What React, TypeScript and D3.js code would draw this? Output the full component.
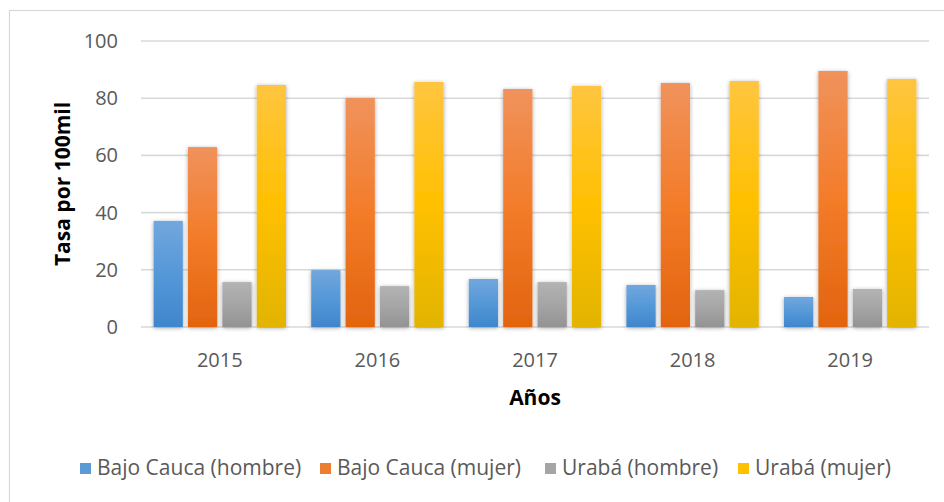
import React from 'react'
import * as d3 from 'd3'

const years = ['2015', '2016', '2017', '2018', '2019']
const seriesNames = ['Bajo Cauca (hombre)', 'Bajo Cauca (mujer)', 'Urabá (hombre)', 'Urabá (mujer)']
const bajoCaucaHombre = [37.1, 19.9, 16.8, 14.7, 10.5]
const bajoCaucaMujer = [62.9, 80.1, 83.2, 85.3, 89.5]
const urabaHombre = [15.7, 14.3, 15.7, 12.9, 13.3]
const urabaMujer = [84.6, 85.7, 84.3, 86.0, 86.7]
const yTicks = [0, 20, 40, 60, 80, 100]

const seriesValues = [bajoCaucaHombre, bajoCaucaMujer, urabaHombre, urabaMujer]
// top, middle, bottom of each bar's gradient + flat legend colour
const grads = [
  ['#72a7dd', '#5598d8', '#3f86cc', '#5b9bd5'],
  ['#f0925c', '#f37c29', '#e2640f', '#ed7d31'],
  ['#b3b3b3', '#a5a5a5', '#939393', '#a5a5a5'],
  ['#ffc540', '#ffc000', '#e2b400', '#ffc000'],
]

const W = 944
const H = 502
const left = 141
const right = 929
const top = 41
const bottom = 327

export default function App() {
  const x0 = d3.scaleBand().domain(years).range([left, right]).paddingInner(0.16).paddingOuter(0.08)
  const x1 = d3.scaleBand().domain(seriesNames).range([0, x0.bandwidth()]).paddingInner(0.15)
  const y = d3.scaleLinear().domain([0, 100]).range([bottom, top])

  // legend square x positions
  const legendX = [80, 320, 545, 738]

  return (
    <div style={{ position: 'absolute', left: 0, top: 0 }}>
      <svg width={W} height={H} style={{ display: 'block', background: '#fff' }}>
        <defs>
          {grads.map((g, i) => (
            <linearGradient key={i} id={'g' + i} x1="0" y1="0" x2="0" y2="1">
              <stop offset="0" stopColor={g[0]} />
              <stop offset="0.5" stopColor={g[1]} />
              <stop offset="1" stopColor={g[2]} />
            </linearGradient>
          ))}
          <filter id="sh" x="-30%" y="-10%" width="160%" height="125%">
            <feDropShadow dx="0" dy="1" stdDeviation="2.2" floodColor="#000" floodOpacity="0.35" />
          </filter>
        </defs>
        {/* chart frame */}
        <rect x={9.5} y={10.5} width={W} height={H} fill="none" stroke="#d9d9d9" strokeWidth={1.2} />

        {yTicks.map(t => (
          <g key={t}>
            <line x1={left} x2={right} y1={y(t)} y2={y(t)} stroke="#d9d9d9" strokeWidth={1.6} />
            <text x={118} y={y(t)} dy="0.35em" textAnchor="end" fontFamily="Open Sans" fontSize={20} fill="#595959">{t}</text>
          </g>
        ))}

        {years.map((yr, i) => (
          <g key={yr} transform={`translate(${x0(yr)},0)`}>
            {seriesNames.map((s, j) => {
              const v = seriesValues[j][i]
              return (
                <rect key={s} x={x1(s)} y={y(v)} width={x1.bandwidth()} height={bottom - y(v)}
                  fill={`url(#g${j})`} filter="url(#sh)" />
              )
            })}
          </g>
        ))}

        {years.map(yr => (
          <text key={yr} x={(x0(yr) as number) + x0.bandwidth() / 2} y={367} textAnchor="middle"
            fontFamily="Open Sans" fontSize={20} fill="#595959">{yr}</text>
        ))}

        <text transform={`translate(70,${(top + bottom) / 2 + 0}) rotate(-90)`} textAnchor="middle"
          fontFamily="Open Sans" fontWeight="bold" fontSize={21} fill="#000">Tasa por 100mil</text>
        <text x={535} y={405} textAnchor="middle" fontFamily="Open Sans" fontWeight="bold" fontSize={21} fill="#000">Años</text>

        {seriesNames.map((s, j) => (
          <g key={s} transform={`translate(${legendX[j]},0)`}>
            <rect x={0} y={463} width={11} height={11} fill={grads[j][3]} />
            <text x={17} y={468} dy="0.35em" fontFamily="Open Sans" fontSize={21} fill="#595959">{s}</text>
          </g>
        ))}
      </svg>
    </div>
  )
}
